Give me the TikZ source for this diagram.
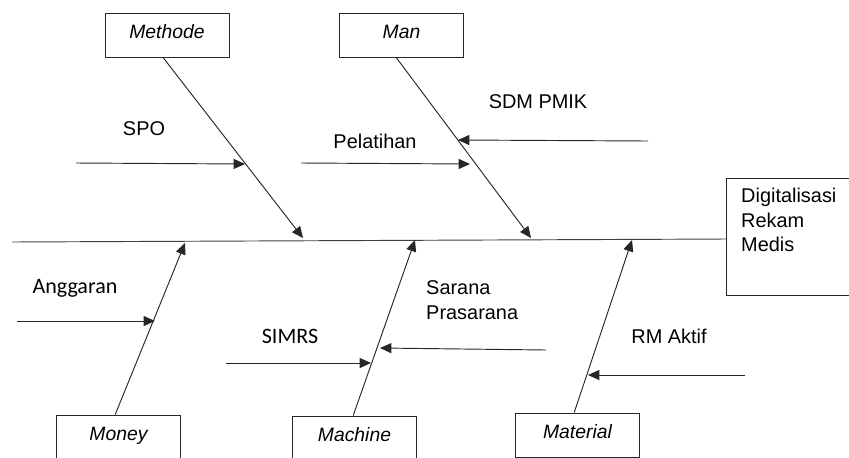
\documentclass[tikz,border=0pt]{standalone}
\usepackage{fontspec}
\setmainfont{Liberation Sans}
\newfontfamily\calibfont{Carlito}
\usetikzlibrary{arrows.meta}

\begin{document}
\begin{tikzpicture}[x=0.3mm,y=-0.3mm,
  catbox/.style={draw=black!85,line width=0.7pt,minimum width=37.2mm,minimum height=13.2mm,inner sep=0pt,
    text height=1.55ex,text depth=.3ex,font=\fontsize{16.5}{20}\selectfont\itshape},
  spine/.style={line width=0.8pt,draw=black!75},
  bone/.style={-{Triangle[length=3.4mm,width=3mm]},line width=0.8pt,draw=black!85},
  tag/.style={anchor=base,inner sep=0pt,font=\fontsize{17}{21}\selectfont},
  tagc/.style={anchor=base,inner sep=0pt,font=\calibfont\fontsize{18.8}{22}\selectfont}
]
\useasboundingbox (0,0) rectangle (849,457);
\clip (0,0) rectangle (849,457);

% categories
\node[catbox] (methode) at (167,35) {Methode};
\node[catbox] (man) at (401.5,35) {Man};
\node[catbox] (money) at (118.5,437) {Money};
\node[catbox] (machine) at (354.5,438) {Machine};
\node[catbox] (material) at (577.5,435) {Material};

% effect
\node[draw=black!85,line width=0.7pt,minimum width=42mm,minimum height=35.1mm,anchor=north west] (effect) at (726,178) {};
\node[anchor=north west,align=left,inner sep=0pt,font=\fontsize{17}{21}\selectfont] (effecttext) at (741,188) {Digitalisasi\\Rekam\\Medis};

% spine
\coordinate (tail) at (12,242);
\coordinate (head) at (727,239);
\draw[spine] (tail) -- (head);

% bones
\coordinate (methodetip) at (303,238);
\coordinate (mantip) at (531,238);
\coordinate (moneytip) at (185,243);
\coordinate (machinetip) at (415,240);
\coordinate (materialtip) at (632,240);
\draw[bone] ([xshift=-1.2mm]methode.south) -- (methodetip);
\draw[bone] ([xshift=-1.6mm]man.south) -- (mantip);
\draw[bone] ([xshift=-1mm]money.north) -- (moneytip);
\draw[bone] ([xshift=-0.4mm]machine.north) -- (machinetip);
\draw[bone] ([xshift=-1mm]material.north) -- (materialtip);

% causes
\node[tag] (spo) at (144,135) {SPO};
\coordinate (spostart) at (76,163);
\coordinate (spotip) at (245,164);
\draw[bone] (spostart) -- (spotip);

\node[tag] (pelatihan) at (375,148) {Pelatihan};
\coordinate (pelatihanstart) at (301,163);
\coordinate (pelatihantip) at (470,164);
\draw[bone] (pelatihanstart) -- (pelatihantip);

\node[tag] (sdm) at (538,108) {SDM PMIK};
\coordinate (sdmstart) at (648,141);
\coordinate (sdmtip) at (458,140);
\draw[bone] (sdmstart) -- (sdmtip);

\node[tagc] (anggaran) at (75,293) {Anggaran};
\coordinate (anggaranstart) at (17,321);
\coordinate (anggarantip) at (155,321);
\draw[bone] (anggaranstart) -- (anggarantip);

\node[tagc] (simrs) at (290,343) {SIMRS};
\coordinate (simrsstart) at (226,363);
\coordinate (simrstip) at (371,363);
\draw[bone] (simrsstart) -- (simrstip);

\node[tag,anchor=base west,align=left] (sarana) at (426,319) {Sarana\\Prasarana};
\coordinate (saranastart) at (546,350);
\coordinate (saranatip) at (380,348);
\draw[bone] (saranastart) -- (saranatip);

\node[tag] (rmaktif) at (669,343) {RM Aktif};
\coordinate (rmstart) at (745,375);
\coordinate (rmtip) at (588,375);
\draw[bone] (rmstart) -- (rmtip);
\end{tikzpicture}
\end{document}
